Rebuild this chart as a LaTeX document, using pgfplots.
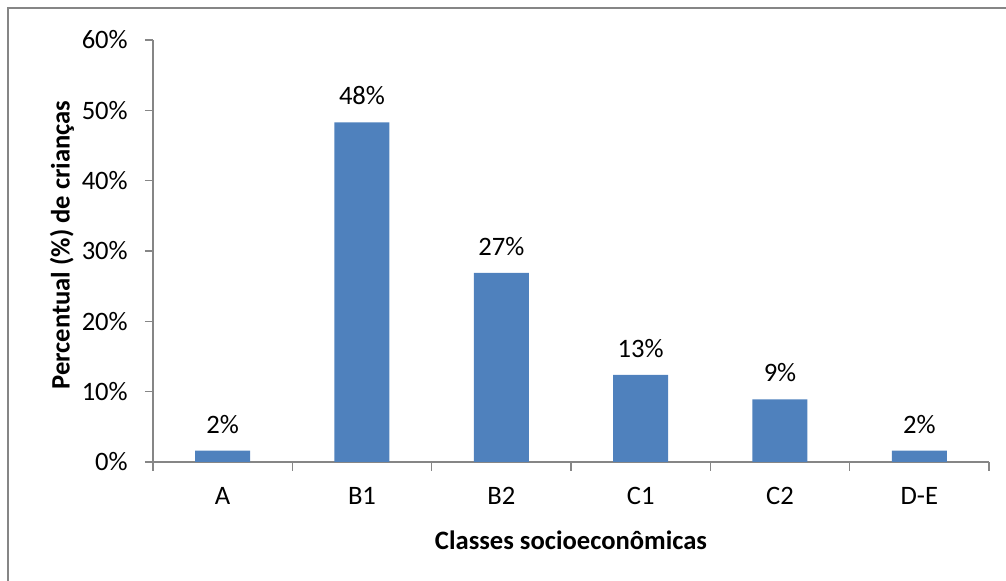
\documentclass[border=0pt]{standalone}
\usepackage{pgfplots}
\pgfplotsset{compat=1.18}
\usepackage{fontspec}
\setmainfont{Carlito}
\definecolor{barblue}{HTML}{4F81BD}
\definecolor{axgray}{HTML}{868686}
\pgfplotstableread{
x y label
0 1.6 2\%
1 48.3 48\%
2 26.9 27\%
3 12.4 13\%
4 8.9 9\%
5 1.6 2\%
}\datatable
\begin{document}
\fontsize{13.3}{15}\selectfont
\begin{tikzpicture}
\useasboundingbox (0pt,0pt) rectangle (503pt,290.5pt);
\draw[axgray, line width=0.7pt] (4pt,0pt) -- (4pt,286.5pt) -- (503pt,286.5pt);
\begin{axis}[
  at={(76.5pt,59.5pt)}, anchor=south west,
  scale only axis, width=418pt, height=211pt,
  ymin=0, ymax=60, xmin=-0.5, xmax=5.5,
  enlargelimits=false,
  axis x line*=bottom, axis y line*=left,
  axis line style={axgray, line width=0.6pt},
  tick style={axgray, line width=0.6pt},
  tick align=outside,
  major tick length=4pt, minor tick length=4.5pt,
  ytick={0,10,20,30,40,50,60},
  yticklabels={0\%,10\%,20\%,30\%,40\%,50\%,60\%},
  xtick={0,1,2,3,4,5},
  xticklabels={A,B1,B2,C1,C2,D-E},
  major x tick style={draw=none},
  minor xtick={-0.5,0.5,1.5,2.5,3.5,4.5,5.5},
  tick label style={font=\fontsize{13.3}{15}\selectfont},
  yticklabel style={xshift=-4pt},
  xticklabel style={yshift=-4pt},
  ybar, bar width=27.5pt,
  nodes near coords, point meta=explicit symbolic,
  every node near coord/.append style={font=\fontsize{13.3}{15}\selectfont, yshift=4pt},
]
\addplot[fill=barblue, draw=none] table[x=x, y=y, meta=label] {\datatable};
\end{axis}
\node[rotate=90, font=\bfseries\fontsize{13.3}{15}\selectfont] at (31pt,168pt) {Percentual (\%) de crianças};
\node[font=\bfseries\fontsize{13.3}{15}\selectfont] at (285.5pt,20.5pt) {Classes socioeconômicas};
\end{tikzpicture}
\end{document}
